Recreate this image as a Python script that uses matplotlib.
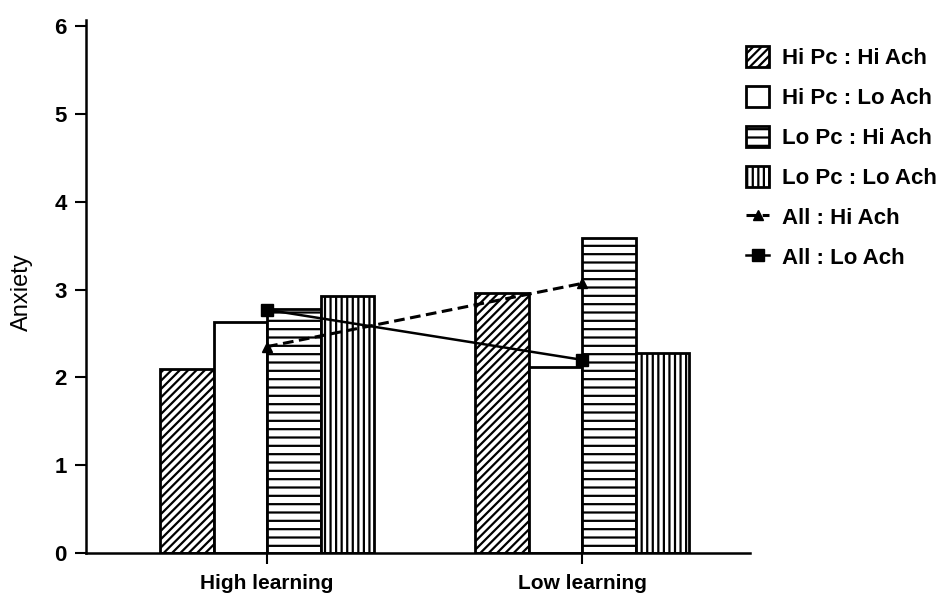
import numpy as np
import matplotlib.pyplot as plt

# ---- data ----
groups = ['High learning', 'Low learning']
bar_labels = ['Hi Pc : Hi Ach', 'Hi Pc : Lo Ach', 'Lo Pc : Hi Ach', 'Lo Pc : Lo Ach']
hi_pc_hi_ach = [2.10, 2.96]
hi_pc_lo_ach = [2.63, 2.12]
lo_pc_hi_ach = [2.78, 3.59]
lo_pc_lo_ach = [2.93, 2.28]
all_hi_ach = [2.35, 3.07]
all_lo_ach = [2.77, 2.20]
y_ticks = [0, 1, 2, 3, 4, 5, 6]

plt.rcParams['font.family'] = ['Liberation Sans', 'DejaVu Sans']
plt.rcParams['hatch.linewidth'] = 1.6
plt.rcParams['hatch.color'] = 'black'

fig = plt.figure(figsize=(9.52, 5.96), dpi=100)
ax = fig.add_axes([86 / 952, 1 - 553 / 596, (750 - 86) / 952, (553 - 20) / 596])

x = np.arange(len(groups))
w = 0.17
offsets = [-2 * w, -w, 0, w]
hatches = ['////', '', '--', '|||']
series = [hi_pc_hi_ach, hi_pc_lo_ach, lo_pc_hi_ach, lo_pc_lo_ach]

handles = []
for off, vals, h, lab in zip(offsets, series, hatches, bar_labels):
    b = ax.bar(x + off, vals, w, align='edge', facecolor='white',
               edgecolor='black', linewidth=2, hatch=h, label=lab, zorder=2)
    handles.append(b)

# group means drawn over the bars
l1, = ax.plot(x, all_hi_ach, color='black', lw=2.2, dashes=(3.5, 1.8),
              marker='^', markersize=7, label='All : Hi Ach', zorder=4)
l2, = ax.plot(x, all_lo_ach, color='black', lw=1.8, linestyle='-',
              marker='s', markersize=8, label='All : Lo Ach', zorder=4)
handles += [l1, l2]

ax.set_xlim(-0.575, 1.533)
ax.set_ylim(0, 6.07)
ax.set_yticks(y_ticks)
ax.set_xticks(x)
ax.set_xticklabels(groups, fontsize=15, fontweight='bold')
ax.tick_params(axis='y', direction='out', length=8, width=1.5, labelsize=16, pad=6)
ax.tick_params(axis='x', direction='out', length=8, width=1.5, pad=7)
for t in ax.get_yticklabels():
    t.set_fontweight('bold')

ax.spines['top'].set_visible(False)
ax.spines['right'].set_visible(False)
ax.spines['left'].set_linewidth(1.8)
ax.spines['bottom'].set_linewidth(1.8)

ax.set_ylabel('Anxiety', fontsize=17)
ax.yaxis.set_label_coords(-0.08, 0.49)

leg = ax.legend(handles=handles, loc='upper left',
                bbox_to_anchor=(746 / 952, 1 - 46 / 596),
                bbox_transform=fig.transFigure, frameon=False,
                prop={'weight': 'bold', 'size': 16},
                handlelength=1.05, handleheight=1.1, handletextpad=0.55,
                labelspacing=0.75, borderpad=0, borderaxespad=0)

fig.savefig('out.png', dpi=100)
